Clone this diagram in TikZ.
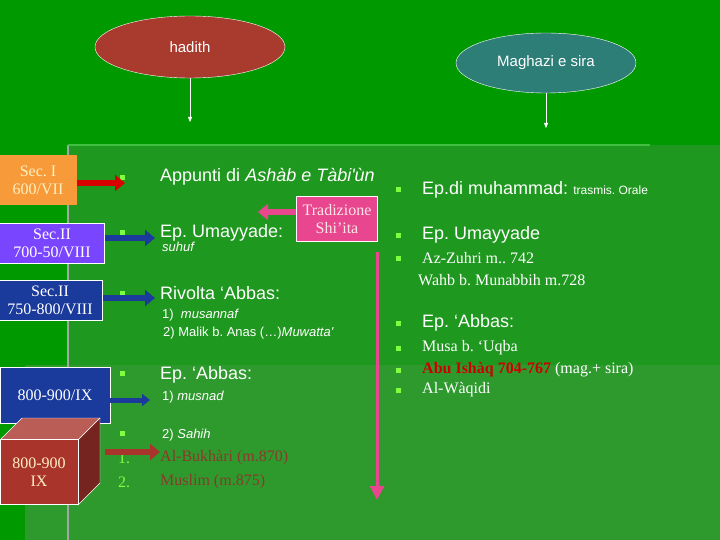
\documentclass[tikz,border=0pt]{standalone}
\usepackage{fontspec}
\setmainfont{Liberation Serif}
\newfontfamily\sansf{Liberation Sans}
\usetikzlibrary{shapes.geometric,arrows.meta,positioning}
\frenchspacing
\definecolor{bgg}{HTML}{009900}
\definecolor{panelg}{HTML}{1F981F}
\definecolor{lowg}{HTML}{2E9A2E}
\definecolor{bul}{HTML}{80FF40}
\definecolor{hadr}{HTML}{A83A2E}
\definecolor{magt}{HTML}{2E7E78}
\definecolor{secor}{HTML}{F79A3A}
\definecolor{secpu}{HTML}{7A45FF}
\definecolor{secbl}{HTML}{1A3A9C}
\definecolor{cuber}{HTML}{A8342C}
\definecolor{shipk}{HTML}{E8468F}
\definecolor{brownt}{HTML}{8A3A2A}
\definecolor{creamt}{HTML}{FFF0C0}
\tikzset{
  oval/.style={ellipse, draw=white, text=white, font=\sansf\fontsize{15}{17}\selectfont},
  secbox/.style={draw=white, text=white, align=center, font=\fontsize{16}{18}\selectfont, inner sep=2pt},
  bigtxt/.style={anchor=west, text=white, font=\sansf\fontsize{18}{20}\selectfont, inner sep=0pt},
  smalltxt/.style={anchor=west, text=white, font=\sansf\fontsize{13}{15}\selectfont, inner sep=0pt},
  sertxt/.style={anchor=west, text=white, font=\fontsize{16}{18}\selectfont, inner sep=0pt},
  bul/.style={fill=bul, minimum size=5pt, inner sep=0pt},
  fat/.style={line width=6pt, -{Triangle[length=10pt,width=16pt]}},
}
\begin{document}
\begin{tikzpicture}[x=1pt,y=-1pt]
  \useasboundingbox (0,0) rectangle (720,540);
  \fill[bgg] (0,0) rectangle (720,540);
  \fill[panelg] (67,145) rectangle (720,540);
  \fill[lowg] (25,365) rectangle (720,540);
  \draw[gray!70, line width=2pt] (68,145) -- (68,540);
  \draw[gray!50!green, line width=2pt] (68,145) -- (650,145);
  % headings
  \node[oval, fill=hadr, minimum width=190pt, minimum height=62pt] (hadith) at (190,47) {hadith};
  \node[oval, fill=magt, minimum width=180pt, minimum height=60pt] (maghazi) at (546,63) {Maghazi e sira};
  \coordinate (hadithend) at (190,122);
  \coordinate (maghend) at (546,128);
  \draw[white, -{Triangle[length=5pt,width=4pt]}] (hadith.south) -- (hadithend);
  \draw[white, -{Triangle[length=5pt,width=4pt]}] (maghazi.south) -- (maghend);
  % centuries
  \node[secbox, draw=none, fill=secor, text=creamt, minimum width=77pt, minimum height=50pt] (sec1) at (38,180) {Sec. I\\600/VII};
  \node[secbox, fill=secpu, minimum width=105pt, minimum height=40pt] (sec2) at (52,243) {Sec.II\\700-50/VIII};
  \node[secbox, fill=secbl, minimum width=105pt, minimum height=40pt] (sec3) at (50,300) {Sec.II\\750-800/VIII};
  \node[secbox, fill=secbl, minimum width=110pt, minimum height=56pt] (sec4) at (55,395) {800-900/IX};
  \fill[cuber!80!white, draw=white] (0,440) -- (22,418) -- (100,418) -- (78,440) -- cycle;
  \fill[cuber!70!black, draw=white] (78,440) -- (100,418) -- (100,483) -- (78,505) -- cycle;
  \node[secbox, fill=cuber, text=creamt, minimum width=78pt, minimum height=65pt] (sec5) at (39,472) {800-900\\IX};
  % hadith column
  \foreach \y in {178,233,293,373,433} \node[bul] at (122,\y) {};
  \node[bigtxt] (ashab) at (160,177) {Appunti di \textit{Ashàb e Tàbi'ùn}};
  \node[bigtxt] (umay) at (160,233) {Ep. Umayyade:};
  \node[smalltxt] at (162,247) {\textit{suhuf}};
  \node[bigtxt] (rivolta) at (160,293) {Rivolta ‘Abbas:};
  \node[smalltxt] at (162,315) {1)\ \ \textit{musannaf}};
  \node[smalltxt] at (163,333) {2) Malik b. Anas (…)\textit{Muwatta'}};
  \node[bigtxt] (abbas) at (160,375) {Ep. ‘Abbas:};
  \node[smalltxt] (musnad) at (162,397) {1) \textit{musnad}};
  \node[smalltxt] at (162,435) {2) \textit{Sahih}};
  \node[anchor=west, text=bul, font=\fontsize{16}{18}\selectfont, inner sep=0pt] at (118,458) {1.};
  \node[anchor=west, text=bul, font=\fontsize{16}{18}\selectfont, inner sep=0pt] at (118,482) {2.};
  \node[sertxt, text=brownt] (bukhari) at (160,458) {Al-Bukhàri (m.870)};
  \node[sertxt, text=brownt] at (160,482) {Muslim (m.875)};
  % shi'ita
  \node[secbox, fill=shipk, text=pink!40!white, minimum width=81pt, minimum height=45pt] (shia) at (337,219) {Tradizione\\Shi'ita};
  \coordinate (shiaend) at (258,212);
  \draw[shipk, fat] (shia.west |- shiaend) -- (shiaend);
  \coordinate (shiatop) at (377,252);
  \coordinate (shiabot) at (377,500);
  \draw[shipk, line width=3pt, -{Triangle[length=14pt,width=14pt]}] (shiatop) -- (shiabot);
  % arrows from centuries
  \draw[red!85!black, fat] (sec1.east |- 0,183) -- (125,183);
  \draw[secbl, fat] (sec2.east |- 0,238) -- (155,238);
  \draw[secbl, fat] (sec3.east |- 0,298) -- (155,298);
  \draw[secbl, line width=5pt, -{Triangle[length=8pt,width=12pt]}] (sec4.east |- 0,400) -- (150,400);
  \draw[cuber, fat] (105,452) -- (160,452);
  % maghazi column
  \foreach \y in {190,235,258,323,348,370,390} \node[bul] at (398,\y) {};
  \node[bigtxt] at (422,190) {Ep.di muhammad: {\fontsize{12}{14}\selectfont trasmis. Orale}};
  \node[bigtxt] at (422,235) {Ep. Umayyade};
  \node[sertxt] at (422,258) {Az-Zuhri m.. 742};
  \node[sertxt] at (418,280) {Wahb b. Munabbih m.728};
  \node[bigtxt] at (422,323) {Ep. ‘Abbas:};
  \node[sertxt] at (422,348) {Musa b. ‘Uqba};
  \node[sertxt] at (422,370) {\textcolor{red!80!black}{\bfseries Abu Ishàq 704-767} (mag.+ sira)};
  \node[sertxt] at (422,390) {Al-Wàqidi};
\end{tikzpicture}
\end{document}
